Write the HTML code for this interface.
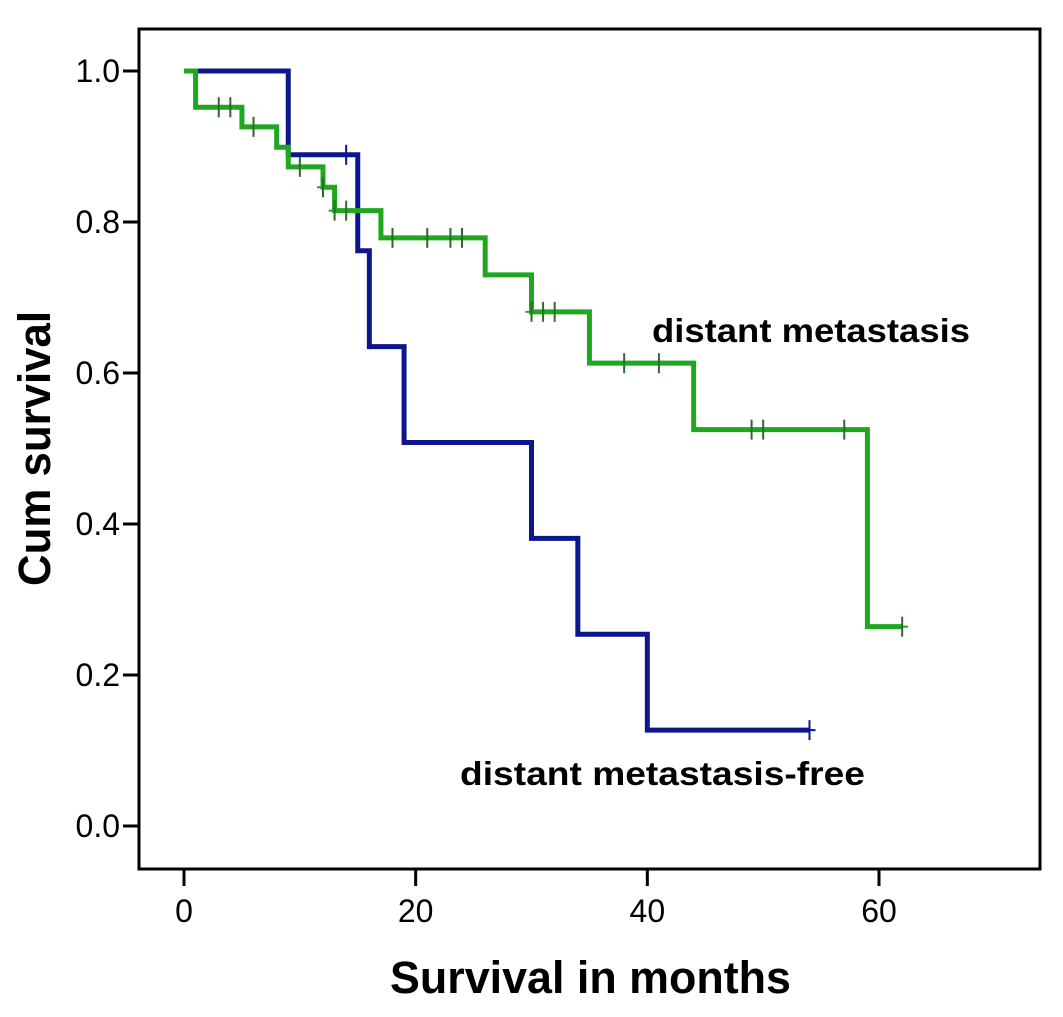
<!DOCTYPE html>
<html><head><meta charset="utf-8"><style>
html,body{margin:0;padding:0;background:#fff;}
svg{display:block;}
</style></head><body>
<svg id="chart" width="1063" height="1017" viewBox="0 0 1063 1017" xmlns="http://www.w3.org/2000/svg" font-family="Liberation Sans, Arial, sans-serif">
<rect x="139" y="29" width="901" height="840" fill="#fff" stroke="#000" stroke-width="3"/>
<g id="yaxis"></g>
<g id="xaxis"></g>
<g id="series"></g>
<text x="652" y="342" font-size="33" font-weight="bold" textLength="318" lengthAdjust="spacingAndGlyphs" fill="#000">distant metastasis</text>
<text x="460" y="785" font-size="33" font-weight="bold" textLength="405" lengthAdjust="spacingAndGlyphs" fill="#000">distant metastasis-free</text>
<text x="390" y="993" font-size="45" font-weight="bold" textLength="401" lengthAdjust="spacingAndGlyphs" fill="#000">Survival in months</text>
<text transform="translate(50,586) rotate(-90)" x="0" y="0" font-size="45" font-weight="bold" textLength="275" lengthAdjust="spacingAndGlyphs" fill="#000">Cum survival</text>
</svg>
<script>
const xTicks = [0, 20, 40, 60];
const yTicks = [0.0, 0.2, 0.4, 0.6, 0.8, 1.0];
const yTickLabels = ["0.0", "0.2", "0.4", "0.6", "0.8", "1.0"];
// distant metastasis-free (blue)
const blueTimes = [0, 9, 15, 16, 19, 30, 34, 40, 54];
const blueSurv = [1.0, 0.889, 0.762, 0.635, 0.508, 0.381, 0.254, 0.127, 0.127];
const blueCensor = [14, 54];
// distant metastasis (green)
const greenTimes = [0, 1, 5, 8, 9, 12, 13, 17, 26, 30, 35, 44, 59, 62];
const greenSurv = [1.0, 0.952, 0.926, 0.899, 0.873, 0.846, 0.815, 0.779, 0.73, 0.681, 0.613, 0.525, 0.264, 0.264];
const greenCensor = [3, 4, 6, 10, 12, 13, 14, 18, 21, 23, 24, 30, 31, 32, 38, 41, 49, 50, 57, 62];

const NS = "http://www.w3.org/2000/svg";
function xs(m){ return 184 + m * (879 - 184) / 60; }
function ys(v){ return 826 - v * 755; }
function mk(tag, attrs, parent){
  const e = document.createElementNS(NS, tag);
  for (const k in attrs) e.setAttribute(k, attrs[k]);
  parent.appendChild(e); return e;
}
const ya = document.getElementById('yaxis');
yTicks.forEach((v, i) => {
  const l = mk('line', {x1: 123, x2: 139, y1: ys(v), y2: ys(v), stroke: '#000', 'stroke-width': 3}, ya);
  
  
  const t = mk('text', {x: 120, y: ys(v) + 11, 'font-size': 32, 'text-anchor': 'end', fill: '#000'}, ya);
  
  
  t.textContent = yTickLabels[i];
});
const xa = document.getElementById('xaxis');
xTicks.forEach(m => {
  const l = mk('line', {x1: xs(m), x2: xs(m), y1: 869, y2: 886, stroke: '#000', 'stroke-width': 3}, xa);
  
  
  const t = mk('text', {x: xs(m), y: 922, 'font-size': 32, 'text-anchor': 'middle', fill: '#000'}, xa);
  
  
  t.textContent = String(m);
});
function stepPath(times, surv){
  let d = 'M' + xs(times[0]) + ' ' + ys(surv[0]);
  for (let i = 1; i < times.length; i++){
    d += ' H' + xs(times[i]) + ' V' + ys(surv[i]);
  }
  return d;
}
function survAt(times, surv, t){
  let v = surv[0];
  for (let i = 0; i < times.length; i++) if (times[i] <= t) v = surv[i];
  return v;
}
const sg = document.getElementById('series');
function drawSeries(times, surv, censor, color, tickColor, name){
  const p = mk('path', {d: stepPath(times, surv), fill: 'none', stroke: color, 'stroke-width': 5, 'stroke-linejoin': 'miter'}, sg);
  
  
  censor.forEach(c => {
    const y = ys(survAt(times, surv, c));
    const h = mk('line', {x1: xs(c) - 6, x2: xs(c) + 6, y1: y, y2: y, stroke: color, 'stroke-width': 2}, sg);
    
    
    const v = mk('line', {x1: xs(c), x2: xs(c), y1: y - 10, y2: y + 10, stroke: tickColor, 'stroke-width': 2}, sg);
    
    
  });
}
drawSeries(blueTimes, blueSurv, blueCensor, '#0d168c', '#0d168c', 'metastasis-free');
drawSeries(greenTimes, greenSurv, greenCensor, '#1fa81f', '#2a6a2a', 'metastasis');
</script>
</body></html>
